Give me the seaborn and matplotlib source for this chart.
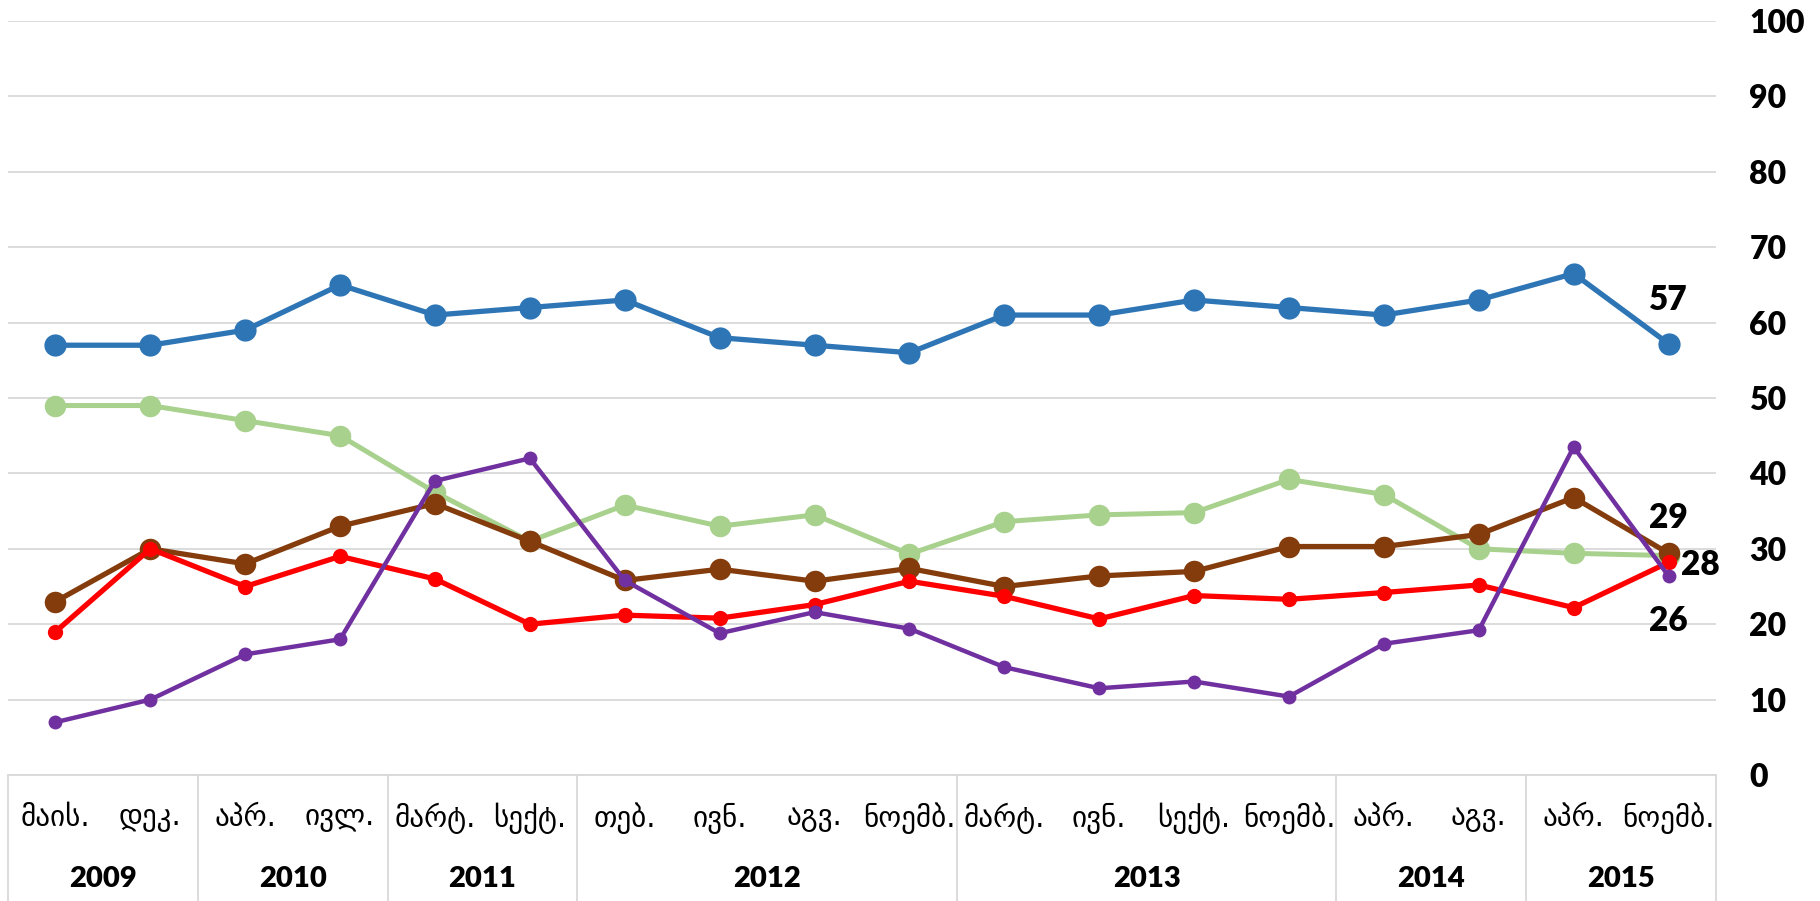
import matplotlib
matplotlib.use("Agg")
import matplotlib.pyplot as plt
import matplotlib.transforms as mtransforms
import seaborn as sns
import numpy as np
import pandas as pd

# ---- data ----
months = ["მაის.", "დეკ.", "აპრ.", "ივლ.", "მარტ.", "სექტ.", "თებ.", "ივნ.", "აგვ.", "ნოემბ.",
          "მარტ.", "ივნ.", "სექტ.", "ნოემბ.", "აპრ.", "აგვ.", "აპრ.", "ნოემბ."]
years = ["2009", "2010", "2011", "2012", "2013", "2014", "2015"]
year_counts = [2, 2, 2, 4, 4, 2, 2]

blue = [57, 57, 59, 65, 61, 62, 63, 58, 57, 56, 61, 61, 63, 62, 61, 63, 66.5, 57.2]
green = [49, 49, 47, 45, 37.5, 31, 35.8, 33, 34.5, 29.3, 33.6, 34.5, 34.8, 39.2, 37.2, 30, 29.4, 29.1]
brown = [23, 30, 28, 33, 36, 31, 25.8, 27.3, 25.7, 27.4, 25, 26.4, 27, 30.3, 30.3, 31.9, 36.8, 29.4]
red = [19, 30, 25, 29, 26, 20, 21.2, 20.8, 22.6, 25.7, 23.7, 20.7, 23.8, 23.3, 24.2, 25.2, 22.2, 28.2]
purple = [7, 10, 16, 18, 39, 42, 25.8, 18.8, 21.6, 19.4, 14.3, 11.5, 12.4, 10.4, 17.4, 19.2, 43.5, 26.4]

end_labels = ["57", "29", "28", "26"]

series = [
    ("blue", blue, "#2E75B6", 16, 3.8),
    ("green", green, "#A9D18E", 15.5, 3.6),
    ("brown", brown, "#843C0C", 15.5, 3.8),
    ("red", red, "#FF0000", 11, 3.8),
    ("purple", purple, "#7030A0", 10, 3.2),
]

# ---- figure ----
sns.set_theme(style="white")
plt.rcParams["font.family"] = ["Lato", "DejaVu Sans"]
plt.rcParams["text.color"] = "black"
plt.rcParams["ytick.color"] = "black"
plt.rcParams["ytick.labelcolor"] = "black"

W, H = 1820, 901
fig = plt.figure(figsize=(W / 100, H / 100), dpi=100)
left, right, top, bottom = 8, 1716, 21, 775
ax = fig.add_axes([left / W, (H - bottom) / H, (right - left) / W, (bottom - top) / H])

x = np.arange(len(months))
for name, vals, col, ms, lw in series:
    df = pd.DataFrame({"x": x, "y": vals})
    sns.lineplot(data=df, x="x", y="y", ax=ax, color=col, linewidth=lw,
                 marker="o", markersize=ms, markeredgewidth=0, zorder=3)

ax.set_xlim(-0.5, len(months) - 0.5)
ax.set_ylim(0, 100)
ax.set_yticks(np.arange(0, 101, 10))
ax.yaxis.tick_right()
ax.tick_params(axis="y", length=0, pad=24, labelsize=23, labelcolor="black")
for lbl in ax.get_yticklabels():
    lbl.set_fontweight("heavy")
    lbl.set_horizontalalignment("left")
ax.set_xticks([])
ax.set_xlabel("")
ax.set_ylabel("")
ax.grid(axis="y", color="#D9D9D9", linewidth=1.3)
ax.set_axisbelow(True)
for s in ["left", "right", "top"]:
    ax.spines[s].set_visible(False)
ax.spines["bottom"].set_color("#D9D9D9")
ax.spines["bottom"].set_linewidth(1.3)

# ---- two-level category axis ----
trans = mtransforms.blended_transform_factory(ax.transData, ax.transAxes)
ax_h = bottom - top
y_month = -(818 - bottom) / ax_h
y_year = -(879 - bottom) / ax_h
y_end = -(H - bottom) / ax_h
for i, m in enumerate(months):
    ax.text(i, y_month, m, transform=trans, ha="center", va="center", color="black",
            fontsize=21, family=["DejaVu Sans"], clip_on=False)
start = 0
bounds = [-0.5]
for yr, c in zip(years, year_counts):
    center = start + (c - 1) / 2
    ax.text(center, y_year, yr, transform=trans, ha="center", va="center", color="black",
            fontsize=21, fontweight="heavy", clip_on=False)
    start += c
    bounds.append(start - 0.5)
for b in bounds:
    ax.plot([b, b], [0, y_end], transform=trans, color="#D9D9D9", linewidth=1.3, clip_on=False)

# ---- end labels ----
last = len(months) - 1
lab_kw = dict(textcoords="offset points", fontsize=24, fontweight="heavy", color="black")
ax.annotate(end_labels[0], (last, blue[-1]), xytext=(0, 20), ha="center", va="bottom", **lab_kw)
ax.annotate(end_labels[1], (last, brown[-1]), xytext=(0, 14), ha="center", va="bottom", **lab_kw)
ax.annotate(end_labels[2], (last, red[-1]), xytext=(9, -2), ha="left", va="center", **lab_kw)
ax.annotate(end_labels[3], (last, purple[-1]), xytext=(0, -21), ha="center", va="top", **lab_kw)

fig.savefig("out.png", dpi=100)
